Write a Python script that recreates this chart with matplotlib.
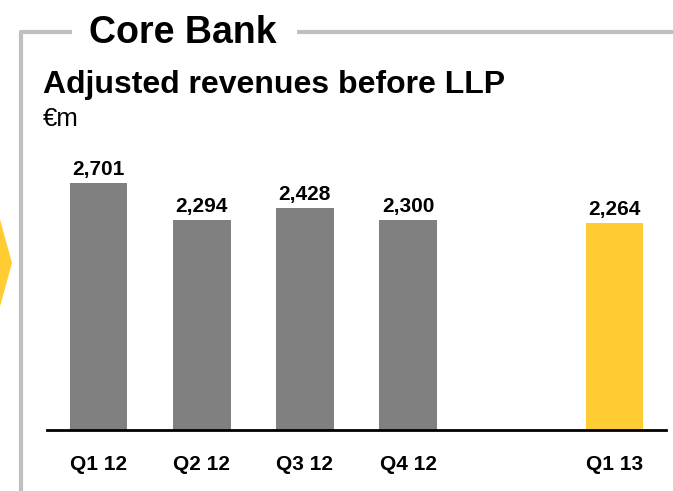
import matplotlib.pyplot as plt
from matplotlib.patches import Polygon

plt.rcParams['font.family'] = ['Liberation Sans', 'DejaVu Sans']

# datos del gráfico
trimestres = ["Q1 12", "Q2 12", "Q3 12", "Q4 12", "Q1 13"]
posiciones = [0, 1, 2, 3, 5]
ingresos = [2701, 2294, 2428, 2300, 2264]
etiquetas = ["2,701", "2,294", "2,428", "2,300", "2,264"]
colores = ["#808080", "#808080", "#808080", "#808080", "#FFCC33"]

fig = plt.figure(figsize=(6.73, 4.91), dpi=100)

# capa de fondo en píxeles para el marco y los títulos
fondo = fig.add_axes([0, 0, 1, 1])
fondo.set_xlim(0, 673)
fondo.set_ylim(491, 0)
fondo.axis("off")

gris_marco = "#BFBFBF"
fondo.plot([21, 21, 72], [491, 32, 32], color=gris_marco, lw=3, solid_capstyle="butt")
fondo.plot([297, 673], [32, 32], color=gris_marco, lw=3, solid_capstyle="butt")
fondo.add_patch(Polygon([(-2, 212), (12, 263), (-2, 314)], closed=True,
                        facecolor="#FFCC33", edgecolor="none"))

fondo.text(89, 43, "Core Bank", fontsize=27, fontweight="bold", va="baseline")
fondo.text(43, 93, "Adjusted revenues before LLP", fontsize=23, fontweight="bold",
           va="baseline")
fondo.text(43, 126, "€m", fontsize=18.5, va="baseline")

# gráfico de barras
ax = fig.add_axes([47 / 673, 61 / 491, 619 / 673, 300 / 491])
ax.bar(posiciones, ingresos, width=0.56, color=colores)
ax.set_xlim(-0.5, 5.5)
ax.set_ylim(0, 3280)

for x, v, t in zip(posiciones, ingresos, etiquetas):
    ax.annotate(t, (x, v), xytext=(0, 5.8), textcoords="offset points",
                ha="center", va="baseline", fontsize=15, fontweight="bold")

ax.set_xticks(posiciones)
ax.set_xticklabels(trimestres, fontsize=15, fontweight="bold")
ax.tick_params(axis="x", length=0, pad=18)
ax.set_yticks([])
for lado in ["top", "right", "left"]:
    ax.spines[lado].set_visible(False)
ax.spines["bottom"].set_linewidth(2)
ax.patch.set_alpha(0)

fig.savefig("out.png", dpi=100)
